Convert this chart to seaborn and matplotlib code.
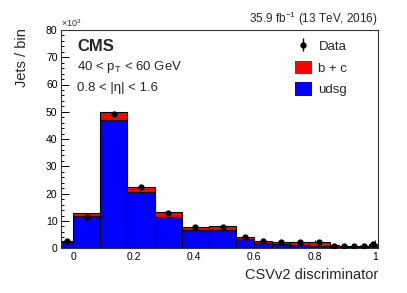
import numpy as np
import pandas as pd
import matplotlib
matplotlib.use("Agg")
import matplotlib.pyplot as plt
from matplotlib.patches import Patch
from matplotlib.ticker import MultipleLocator
import seaborn as sns

# ---- data (jets in units of 10^3) ----
bin_edges = [-0.04, 0.0, 0.09, 0.18, 0.27, 0.36, 0.45, 0.54, 0.60, 0.66,
             0.72, 0.78, 0.85, 0.88, 0.915, 0.945, 0.98, 1.01]
udsg = [2.2, 12.0, 47.0, 20.5, 11.4, 6.6, 6.8, 3.4, 1.8, 1.5, 1.3, 1.0,
        0.5, 0.4, 0.35, 0.3, 0.8]
bc = [0.5, 1.0, 2.8, 2.0, 1.8, 1.2, 1.2, 0.8, 0.9, 0.8, 0.9, 1.3,
      0.6, 0.5, 0.55, 0.5, 0.8]
data_vals = [2.8, 11.6, 49.2, 22.6, 12.9, 7.7, 7.9, 4.0, 2.7, 2.2, 2.2, 2.2,
             0.95, 0.85, 0.85, 0.7, 1.6]
data_err = [0.1, 0.2, 0.3, 0.2, 0.2, 0.1, 0.1, 0.1, 0.1, 0.1, 0.1, 0.1,
            0.05, 0.05, 0.05, 0.05, 0.06]
x_ticks = [0, 0.2, 0.4, 0.6, 0.8, 1]
x_tick_labels = ["0", "0.2", "0.4", "0.6", "0.8", "1"]
y_ticks = [0, 10, 20, 30, 40, 50, 60, 70, 80]

sns.set_theme(style="ticks")
plt.rcParams["font.family"] = ["Liberation Sans", "DejaVu Sans"]
plt.rcParams["mathtext.default"] = "regular"

W, H = 407, 293
fig = plt.figure(figsize=(W / 100, H / 100), dpi=100)
ax = fig.add_axes([61 / W, 1 - 248.3 / H, (378 - 61) / W, (248.3 - 29.9) / H])

edges = np.array(bin_edges)
centers = 0.5 * (edges[:-1] + edges[1:])
df = pd.DataFrame({
    "x": np.concatenate([centers, centers]),
    "w": np.concatenate([bc, udsg]),
    "flavour": ["b + c"] * len(bc) + ["udsg"] * len(udsg),
})

sns.histplot(data=df, x="x", weights="w", hue="flavour",
             hue_order=["b + c", "udsg"], bins=bin_edges, multiple="stack",
             palette={"b + c": "#ff0000", "udsg": "#0000ff"},
             alpha=1, edgecolor="black", linewidth=0.8, legend=False, ax=ax)

eb = ax.errorbar(centers, data_vals, yerr=data_err, fmt="o", color="black",
                 markersize=3.5, elinewidth=1, capsize=0, zorder=5)

ax.set_xlim(-0.04, 1.01)
ax.set_ylim(0, 80)
ax.set_xticks(x_ticks)
ax.set_xticklabels(x_tick_labels)
ax.set_yticks(y_ticks)
ax.xaxis.set_minor_locator(MultipleLocator(0.05))
ax.yaxis.set_minor_locator(MultipleLocator(2))
ax.set_xlabel("")
ax.set_ylabel("")
ax.tick_params(which="both", direction="in", labelsize=7.5, colors="black",
               width=0.7)
ax.tick_params(which="major", length=5.5, pad=2.5)
ax.tick_params(which="minor", length=2.5)
for s in ax.spines.values():
    s.set_visible(True)
    s.set_color("#333333")
    s.set_linewidth(0.8)

# texts
fig.text(22 / W, 1 - 28 / H, "Jets / bin", rotation=90, ha="center",
         va="top", fontsize=10.5)
fig.text(378 / W, 1 - 275 / H, "CSVv2 discriminator", ha="right",
         va="center", fontsize=10.5)
fig.text(61 / W, 1 - 29 / H, r"×10$^{3}$", ha="left", va="bottom",
         fontsize=6.5)
fig.text(378 / W, 1 - 19 / H, r"35.9 fb$^{-1}$ (13 TeV, 2016)", ha="right",
         va="center", fontsize=8.5)
fig.text(77 / W, 1 - 50.7 / H, "CMS", ha="left", va="baseline",
         fontsize=12, fontweight="bold")
fig.text(77 / W, 1 - 70 / H, r"40 < p$_{T}$ < 60 GeV", ha="left",
         va="baseline", fontsize=9.5)
fig.text(77 / W, 1 - 90.7 / H, "0.8 < |η| < 1.6", ha="left",
         va="baseline", fontsize=9.5)

handles = [eb, Patch(facecolor="#ff0000", edgecolor="none"),
           Patch(facecolor="#0000ff", edgecolor="none")]
fig.legend(handles, ["Data", "b + c", "udsg"], loc="upper left",
           bbox_to_anchor=(295 / W, 1 - 39.2 / H), frameon=False,
           fontsize=9.5, borderpad=0, borderaxespad=0, handlelength=1.28,
           handleheight=1.2, labelspacing=0.55, handletextpad=0.5)

fig.savefig("out.png", dpi=100)
